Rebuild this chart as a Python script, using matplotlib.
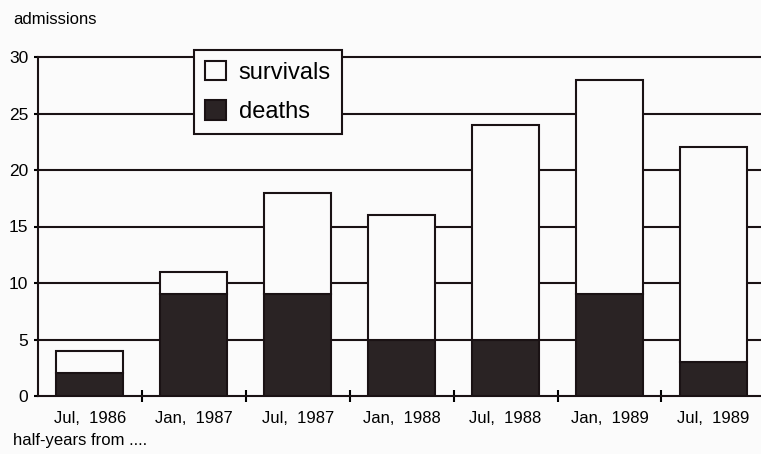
import matplotlib
matplotlib.use("Agg")
import matplotlib.pyplot as plt
import numpy as np

categories = ["Jul,  1986", "Jan,  1987", "Jul,  1987", "Jan,  1988",
              "Jul,  1988", "Jan,  1989", "Jul,  1989"]
deaths = [2, 9, 9, 5, 5, 9, 3]
survivals = [2, 2, 9, 11, 19, 19, 19]
yticks = [0, 5, 10, 15, 20, 25, 30]

plt.rcParams['font.family'] = ['Liberation Sans', 'DejaVu Sans']

W, H = 761, 454
fig = plt.figure(figsize=(W / 100, H / 100), dpi=100)
fig.patch.set_facecolor('#fbfbfb')

left = 38 / W
right = 1.0
bottom = (H - 396) / H
top = (H - 57) / H
ax = fig.add_axes([left, bottom, right - left, top - bottom])
ax.set_facecolor('#fbfbfb')

x = np.arange(len(categories))
bw = 0.645
dark = '#2a2324'
lw = 1.5

ax.bar(x, deaths, width=bw, color=dark, edgecolor='#1a1214', linewidth=lw,
       zorder=3, label='deaths')
ax.bar(x, survivals, bottom=deaths, width=bw, color='#fbfbfb',
       edgecolor='#1a1214', linewidth=lw, zorder=3, label='survivals')

ax.set_xlim(-0.5, (W - 38) / 103.9 - 0.5)
ax.set_ylim(0, 30)

for yv in yticks[1:]:
    ax.axhline(yv, color='#1a1214', linewidth=lw, zorder=1, clip_on=False)

for s in ['top', 'right']:
    ax.spines[s].set_visible(False)
for s in ['left', 'bottom']:
    ax.spines[s].set_linewidth(lw)
    ax.spines[s].set_color('#1a1214')

ax.set_yticks(yticks)
ax.set_yticklabels([str(v) for v in yticks], fontsize=12.5)
ax.tick_params(axis='y', direction='out', length=3, width=lw, pad=4)

ax.set_xticks(x)
ax.set_xticklabels(categories, fontsize=12)
ax.tick_params(axis='x', which='major', length=0, pad=11)
ax.set_xticks(np.arange(len(categories) - 1) + 0.5, minor=True)
ax.tick_params(axis='x', which='minor', direction='inout', length=8, width=lw)

fig.text(13 / W, 1 - 19 / H, "admissions", fontsize=12, va='center', ha='left')
fig.text(13 / W, 1 - 441 / H, "half-years from ....", fontsize=12,
         va='center', ha='left')

handles, labels = ax.get_legend_handles_labels()
leg = ax.legend(handles[::-1], labels[::-1], loc='upper left',
                bbox_to_anchor=(194 / W, 1 - 50 / H),
                bbox_transform=fig.transFigure,
                fontsize=17, frameon=True, fancybox=False, framealpha=1,
                edgecolor='#1a1214', facecolor='#fbfbfb',
                handlelength=0.9, handleheight=0.9, handletextpad=0.55,
                labelspacing=0.7, borderpad=0.45, borderaxespad=0)
leg.get_frame().set_linewidth(lw)
leg.set_zorder(5)

fig.savefig("out.png", dpi=100, facecolor=fig.get_facecolor())
